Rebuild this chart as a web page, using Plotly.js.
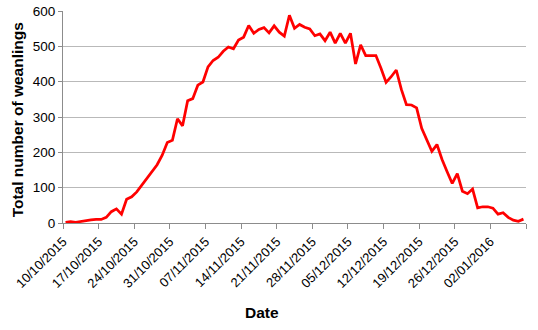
<!DOCTYPE html>
<html>
<head>
<meta charset="utf-8">
<script src="https://cdn.plot.ly/plotly-3.0.1.min.js"></script>
<style>
  html, body { margin: 0; padding: 0; background: #fff; }
  #chart { width: 538px; height: 330px; }
</style>
</head>
<body>
<div id="chart"></div>
<script>
// Daily dates (one point per day)
const dates = [
  "2015-10-10","2015-10-11","2015-10-12","2015-10-13","2015-10-14","2015-10-15","2015-10-16","2015-10-17","2015-10-18","2015-10-19",
  "2015-10-20","2015-10-21","2015-10-22","2015-10-23","2015-10-24","2015-10-25","2015-10-26","2015-10-27","2015-10-28","2015-10-29",
  "2015-10-30","2015-10-31","2015-11-01","2015-11-02","2015-11-03","2015-11-04","2015-11-05","2015-11-06","2015-11-07","2015-11-08",
  "2015-11-09","2015-11-10","2015-11-11","2015-11-12","2015-11-13","2015-11-14","2015-11-15","2015-11-16","2015-11-17","2015-11-18",
  "2015-11-19","2015-11-20","2015-11-21","2015-11-22","2015-11-23","2015-11-24","2015-11-25","2015-11-26","2015-11-27","2015-11-28",
  "2015-11-29","2015-11-30","2015-12-01","2015-12-02","2015-12-03","2015-12-04","2015-12-05","2015-12-06","2015-12-07","2015-12-08",
  "2015-12-09","2015-12-10","2015-12-11","2015-12-12","2015-12-13","2015-12-14","2015-12-15","2015-12-16","2015-12-17","2015-12-18",
  "2015-12-19","2015-12-20","2015-12-21","2015-12-22","2015-12-23","2015-12-24","2015-12-25","2015-12-26","2015-12-27","2015-12-28",
  "2015-12-29","2015-12-30","2015-12-31","2016-01-01","2016-01-02","2016-01-03","2016-01-04","2016-01-05","2016-01-06","2016-01-07",
  "2016-01-08"
];

// Total number of weanlings per day
const weanlings = [
  2, 4, 2, 5, 7, 9, 10, 10, 16, 32,
  40, 25, 67, 74, 88, 107, 126, 146, 165, 192,
  228, 234, 295, 275, 346, 352, 390, 399, 442, 460,
  469, 486, 498, 493, 518, 526, 559, 537, 548, 553,
  538, 558, 540, 529, 588, 551, 562, 554, 549, 530,
  535, 516, 540, 509, 537, 509, 537, 450, 504, 474,
  474, 474, 438, 398, 414, 433, 378, 335, 334, 326,
  268, 235, 203, 222, 180, 145, 112, 140, 90, 83,
  96, 43, 46, 46, 42, 25, 29, 16, 8, 5, 11
];

// Weekly tick dates and their labels (last tick has no label)
const tickDates = [
  "2015-10-10","2015-10-17","2015-10-24","2015-10-31","2015-11-07","2015-11-14","2015-11-21",
  "2015-11-28","2015-12-05","2015-12-12","2015-12-19","2015-12-26","2016-01-02","2016-01-09"
];
const tickLabels = [
  "10/10/2015","17/10/2015","24/10/2015","31/10/2015","07/11/2015","14/11/2015","21/11/2015",
  "28/11/2015","05/12/2015","12/12/2015","19/12/2015","26/12/2015","02/01/2016",""
];

const FONT = "Arial, 'Liberation Sans', sans-serif";

const trace = {
  type: "scatter",
  mode: "lines",
  // each day's point sits in the middle of its day slot (Excel "between tick marks")
  x: dates.map(d => d + " 12:00"),
  y: weanlings,
  line: { color: "#ff0000", width: 2.75 },
  hoverinfo: "skip"
};

const layout = {
  width: 538,
  height: 330,
  margin: { l: 63, r: 12, t: 11, b: 107, pad: 0 },
  paper_bgcolor: "#ffffff",
  plot_bgcolor: "#ffffff",
  showlegend: false,
  font: { family: FONT, color: "#000000" },
  xaxis: {
    type: "date",
    range: [tickDates[0], tickDates[tickDates.length - 1]],
    tickmode: "array",
    tickvals: tickDates,
    ticktext: tickLabels,
    tickangle: -45,
    tickfont: { family: FONT, size: 13, color: "#000000" },
    ticks: "outside",
    ticklen: 5,
    tickcolor: "#8c8c8c",
    showline: true,
    linecolor: "#8c8c8c",
    linewidth: 1,
    showgrid: false,
    zeroline: false,
    fixedrange: true
  },
  yaxis: {
    range: [0, 600],
    tickmode: "linear",
    tick0: 0,
    dtick: 100,
    tickfont: { family: FONT, size: 13.5, color: "#000000" },
    ticks: "outside",
    ticklen: 4,
    tickcolor: "#8c8c8c",
    showline: true,
    linecolor: "#8c8c8c",
    linewidth: 1,
    showgrid: true,
    gridcolor: "#b9b9b9",
    gridwidth: 1,
    zeroline: false,
    fixedrange: true
  },
  annotations: [
    {
      text: "<b>Total number of weanlings</b>",
      xref: "paper", yref: "paper",
      x: -0.099, y: 0.485,
      xanchor: "center", yanchor: "middle",
      textangle: -90,
      showarrow: false,
      font: { family: FONT, size: 15.5, color: "#000000" }
    },
    {
      text: "<b>Date</b>",
      xref: "paper", yref: "paper",
      x: 0.43, y: -0.42,
      xanchor: "center", yanchor: "middle",
      showarrow: false,
      font: { family: FONT, size: 15.5, color: "#000000" }
    }
  ]
};

Plotly.newPlot("chart", [trace], layout, { staticPlot: true, displayModeBar: false });
</script>
</body>
</html>
